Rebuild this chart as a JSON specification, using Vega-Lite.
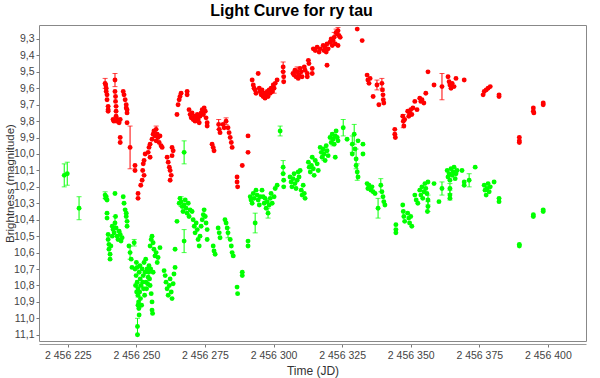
{
"$schema": "https://vega.github.io/schema/vega-lite/v6.json",
"width": 547, "height": 316,
"autosize": {"type": "none"},
"padding": {"left": 39, "top": 25, "right": 14, "bottom": 37},
"background": "white",
"title": {"text": "Light Curve for ry tau", "font": "Liberation Sans", "fontSize": 16, "fontWeight": "bold", "color": "black", "anchor": "middle", "frame": "group", "offset": 6, "dx": -21},
"config": {
  "locale": {"number": {"decimal": ",", "thousands": " ", "grouping": [3], "currency": ["", ""]}},
  "view": {"stroke": "#888888", "strokeWidth": 1},
  "axis": {"labelFont": "Liberation Sans", "labelFontSize": 10.5, "labelColor": "#444444", "titleFont": "Liberation Sans", "titleFontSize": 12, "titleFontWeight": "normal", "titleColor": "#333333", "tickColor": "#777777", "domainColor": "#999999", "grid": false, "tickSize": 3}
},
"data": {"values": [
{"jd":2456238.6,"mag":9.57,"band":"R","err":0.03},{"jd":2456238.8,"mag":9.58,"band":"R"},{"jd":2456239.0,"mag":9.60,"band":"R"},{"jd":2456239.0,"mag":9.62,"band":"R"},{"jd":2456239.3,"mag":9.64,"band":"R"},{"jd":2456239.3,"mag":9.67,"band":"R"},{"jd":2456239.7,"mag":9.71,"band":"R"},{"jd":2456239.7,"mag":9.73,"band":"R"},{"jd":2456239.7,"mag":9.74,"band":"R"},
{"jd":2456242.2,"mag":9.55,"band":"R","err":0.04},{"jd":2456242.2,"mag":9.62,"band":"R"},{"jd":2456242.4,"mag":9.65,"band":"R"},{"jd":2456242.4,"mag":9.68,"band":"R"},{"jd":2456242.6,"mag":9.71,"band":"R"},{"jd":2456242.6,"mag":9.74,"band":"R"},{"jd":2456242.6,"mag":9.77,"band":"R"},{"jd":2456242.8,"mag":9.80,"band":"R"},{"jd":2456243.0,"mag":9.79,"band":"R"},{"jd":2456243.3,"mag":9.80,"band":"R"},{"jd":2456243.7,"mag":9.81,"band":"R"},{"jd":2456244.1,"mag":9.79,"band":"R"},{"jd":2456241.5,"mag":9.79,"band":"R"},{"jd":2456241.8,"mag":9.80,"band":"R"},
{"jd":2456245.2,"mag":9.62,"band":"R"},{"jd":2456245.5,"mag":9.64,"band":"R"},{"jd":2456245.9,"mag":9.67,"band":"R"},{"jd":2456246.3,"mag":9.70,"band":"R"},{"jd":2456246.6,"mag":9.73,"band":"R"},{"jd":2456246.6,"mag":9.75,"band":"R"},{"jd":2456246.3,"mag":9.72,"band":"R"},{"jd":2456246.6,"mag":9.81,"band":"R"},
{"jd":2456244.1,"mag":9.90,"band":"R"},{"jd":2456244.1,"mag":9.93,"band":"R"},{"jd":2456247.7,"mag":9.96,"band":"R","err":0.13},{"jd":2456249.5,"mag":10.07,"band":"R"},{"jd":2456249.5,"mag":10.10,"band":"R"},{"jd":2456250.6,"mag":10.24,"band":"R"},{"jd":2456250.6,"mag":10.27,"band":"R"},{"jd":2456251.6,"mag":10.19,"band":"R"},
{"jd":2456252.1,"mag":10.16,"band":"R"},{"jd":2456252.3,"mag":10.10,"band":"R"},{"jd":2456252.5,"mag":10.06,"band":"R"},{"jd":2456252.8,"mag":10.04,"band":"R"},{"jd":2456253.2,"mag":10.00,"band":"R"},{"jd":2456252.8,"mag":10.13,"band":"R"},
{"jd":2456254.3,"mag":9.99,"band":"R"},{"jd":2456254.6,"mag":9.96,"band":"R"},{"jd":2456255.0,"mag":9.94,"band":"R"},{"jd":2456255.0,"mag":10.02,"band":"R"},
{"jd":2456255.7,"mag":9.91,"band":"R"},{"jd":2456256.1,"mag":9.88,"band":"R"},{"jd":2456256.4,"mag":9.86,"band":"R"},{"jd":2456256.8,"mag":9.89,"band":"R"},{"jd":2456257.2,"mag":9.92,"band":"R"},{"jd":2456257.6,"mag":9.88,"band":"R"},{"jd":2456257.9,"mag":9.90,"band":"R"},{"jd":2456258.3,"mag":9.93,"band":"R"},{"jd":2456258.6,"mag":9.89,"band":"R"},{"jd":2456259.0,"mag":9.95,"band":"R"},{"jd":2456259.4,"mag":9.96,"band":"R"},{"jd":2456257.2,"mag":9.85,"band":"R","err":0.02},
{"jd":2456261.2,"mag":10.02,"band":"R"},{"jd":2456261.6,"mag":10.05,"band":"R"},{"jd":2456262.0,"mag":10.08,"band":"R"},{"jd":2456262.3,"mag":10.10,"band":"R"},{"jd":2456262.7,"mag":10.13,"band":"R"},{"jd":2456262.3,"mag":10.16,"band":"R"},{"jd":2456263.0,"mag":9.96,"band":"R"},{"jd":2456263.4,"mag":9.98,"band":"R"},{"jd":2456263.0,"mag":10.01,"band":"R"},
{"jd":2456264.8,"mag":9.76,"band":"R"},{"jd":2456265.2,"mag":9.70,"band":"R"},{"jd":2456265.6,"mag":9.67,"band":"R"},{"jd":2456265.9,"mag":9.65,"band":"R"},{"jd":2456266.3,"mag":9.63,"band":"R"},{"jd":2456268.5,"mag":9.62,"band":"R"},{"jd":2456268.5,"mag":9.64,"band":"R"},
{"jd":2456269.2,"mag":9.73,"band":"R"},{"jd":2456269.6,"mag":9.76,"band":"R"},{"jd":2456270.0,"mag":9.78,"band":"R"},{"jd":2456270.3,"mag":9.75,"band":"R"},{"jd":2456270.7,"mag":9.79,"band":"R"},{"jd":2456271.1,"mag":9.77,"band":"R"},{"jd":2456271.4,"mag":9.80,"band":"R"},{"jd":2456271.8,"mag":9.78,"band":"R"},{"jd":2456272.2,"mag":9.76,"band":"R"},{"jd":2456272.5,"mag":9.79,"band":"R"},{"jd":2456272.9,"mag":9.81,"band":"R"},{"jd":2456273.2,"mag":9.77,"band":"R"},{"jd":2456273.6,"mag":9.75,"band":"R"},{"jd":2456274.0,"mag":9.73,"band":"R"},{"jd":2456274.4,"mag":9.76,"band":"R"},{"jd":2456274.7,"mag":9.72,"band":"R"},{"jd":2456275.1,"mag":9.74,"band":"R"},{"jd":2456275.4,"mag":9.78,"band":"R"},{"jd":2456275.8,"mag":9.81,"band":"R"},{"jd":2456275.8,"mag":9.83,"band":"R"},
{"jd":2456277.6,"mag":9.94,"band":"R"},{"jd":2456278.0,"mag":9.96,"band":"R"},{"jd":2456278.3,"mag":9.98,"band":"R"},{"jd":2456280.0,"mag":9.82,"band":"R","err":0.03},{"jd":2456280.2,"mag":9.85,"band":"R"},{"jd":2456280.5,"mag":9.87,"band":"R"},{"jd":2456281.6,"mag":9.82,"band":"R"},{"jd":2456282.0,"mag":9.84,"band":"R"},{"jd":2456282.7,"mag":9.80,"band":"R","err":0.02},{"jd":2456283.4,"mag":9.84,"band":"R"},{"jd":2456283.8,"mag":9.87,"band":"R"},{"jd":2456284.2,"mag":9.90,"band":"R"},{"jd":2456284.6,"mag":9.93,"band":"R"},{"jd":2456284.9,"mag":9.96,"band":"R"},
{"jd":2456286.7,"mag":10.14,"band":"R"},{"jd":2456286.7,"mag":10.17,"band":"R"},{"jd":2456286.9,"mag":10.20,"band":"R"},{"jd":2456288.6,"mag":10.07,"band":"R"},{"jd":2456290.7,"mag":9.89,"band":"R"},{"jd":2456290.7,"mag":9.99,"band":"R"},
{"jd":2456292.2,"mag":9.55,"band":"R"},{"jd":2456292.6,"mag":9.58,"band":"R"},{"jd":2456292.9,"mag":9.60,"band":"R"},{"jd":2456293.3,"mag":9.61,"band":"R"},{"jd":2456293.6,"mag":9.63,"band":"R"},{"jd":2456294.4,"mag":9.51,"band":"R"},
{"jd":2456294.8,"mag":9.60,"band":"R"},{"jd":2456295.1,"mag":9.62,"band":"R"},{"jd":2456295.5,"mag":9.64,"band":"R"},{"jd":2456295.8,"mag":9.61,"band":"R"},{"jd":2456296.2,"mag":9.65,"band":"R"},{"jd":2456296.6,"mag":9.63,"band":"R"},{"jd":2456296.9,"mag":9.66,"band":"R"},{"jd":2456297.3,"mag":9.64,"band":"R"},{"jd":2456297.7,"mag":9.62,"band":"R"},{"jd":2456298.0,"mag":9.65,"band":"R"},{"jd":2456298.4,"mag":9.61,"band":"R"},{"jd":2456298.8,"mag":9.63,"band":"R"},{"jd":2456299.1,"mag":9.60,"band":"R"},{"jd":2456299.5,"mag":9.62,"band":"R"},{"jd":2456299.9,"mag":9.58,"band":"R"},{"jd":2456300.2,"mag":9.60,"band":"R","err":0.03},{"jd":2456300.6,"mag":9.57,"band":"R"},{"jd":2456301.3,"mag":9.55,"band":"R"},
{"jd":2456303.5,"mag":9.47,"band":"R","err":0.03},{"jd":2456303.5,"mag":9.50,"band":"R"},{"jd":2456303.7,"mag":9.53,"band":"R"},{"jd":2456303.7,"mag":9.56,"band":"R"},
{"jd":2456307.1,"mag":9.51,"band":"R"},{"jd":2456307.5,"mag":9.52,"band":"R"},{"jd":2456307.8,"mag":9.49,"band":"R"},{"jd":2456308.2,"mag":9.53,"band":"R"},{"jd":2456308.6,"mag":9.50,"band":"R","err":0.03},{"jd":2456309.0,"mag":9.54,"band":"R"},{"jd":2456309.3,"mag":9.52,"band":"R"},{"jd":2456309.7,"mag":9.48,"band":"R"},{"jd":2456310.1,"mag":9.50,"band":"R"},{"jd":2456310.4,"mag":9.53,"band":"R"},{"jd":2456311.2,"mag":9.47,"band":"R"},{"jd":2456311.5,"mag":9.49,"band":"R"},{"jd":2456312.3,"mag":9.51,"band":"R"},{"jd":2456312.3,"mag":9.53,"band":"R"},
{"jd":2456312.7,"mag":9.43,"band":"R"},{"jd":2456312.9,"mag":9.45,"band":"R"},{"jd":2456314.1,"mag":9.48,"band":"R"},{"jd":2456314.1,"mag":9.51,"band":"R"},
{"jd":2456314.5,"mag":9.36,"band":"R"},{"jd":2456315.2,"mag":9.37,"band":"R"},{"jd":2456315.9,"mag":9.35,"band":"R"},{"jd":2456316.6,"mag":9.38,"band":"R"},{"jd":2456317.0,"mag":9.36,"band":"R"},
{"jd":2456318.1,"mag":9.34,"band":"R"},{"jd":2456318.4,"mag":9.37,"band":"R"},{"jd":2456318.8,"mag":9.35,"band":"R"},{"jd":2456319.2,"mag":9.38,"band":"R"},{"jd":2456319.5,"mag":9.33,"band":"R"},{"jd":2456319.9,"mag":9.36,"band":"R"},{"jd":2456319.5,"mag":9.46,"band":"R"},
{"jd":2456320.6,"mag":9.32,"band":"R"},{"jd":2456321.0,"mag":9.30,"band":"R"},{"jd":2456321.4,"mag":9.34,"band":"R"},{"jd":2456321.7,"mag":9.31,"band":"R"},{"jd":2456322.1,"mag":9.29,"band":"R","err":0.03},{"jd":2456322.5,"mag":9.33,"band":"R"},
{"jd":2456322.8,"mag":9.26,"band":"R","err":0.02},{"jd":2456323.2,"mag":9.27,"band":"R"},{"jd":2456323.5,"mag":9.25,"band":"R","err":0.02},{"jd":2456323.9,"mag":9.28,"band":"R"},{"jd":2456324.3,"mag":9.29,"band":"R"},{"jd":2456323.5,"mag":9.34,"band":"R"},
{"jd":2456330.5,"mag":9.24,"band":"R"},{"jd":2456332.3,"mag":9.31,"band":"R"},
{"jd":2456334.1,"mag":9.52,"band":"R"},{"jd":2456334.4,"mag":9.55,"band":"R"},{"jd":2456334.8,"mag":9.57,"band":"R"},{"jd":2456335.2,"mag":9.54,"band":"R"},{"jd":2456336.3,"mag":9.65,"band":"R"},{"jd":2456337.7,"mag":9.58,"band":"R","err":0.03},{"jd":2456338.4,"mag":9.70,"band":"R"},
{"jd":2456339.5,"mag":9.57,"band":"R","err":0.03},{"jd":2456339.7,"mag":9.61,"band":"R"},{"jd":2456339.9,"mag":9.64,"band":"R"},{"jd":2456340.0,"mag":9.67,"band":"R"},{"jd":2456340.2,"mag":9.69,"band":"R"},
{"jd":2456344.2,"mag":9.85,"band":"R"},{"jd":2456344.2,"mag":9.88,"band":"R"},{"jd":2456344.4,"mag":9.90,"band":"R"},
{"jd":2456347.1,"mag":9.77,"band":"R"},{"jd":2456347.3,"mag":9.80,"band":"R","err":0.04},{"jd":2456347.5,"mag":9.83,"band":"R"},{"jd":2456347.8,"mag":9.79,"band":"R"},
{"jd":2456348.9,"mag":9.74,"band":"R"},{"jd":2456349.3,"mag":9.77,"band":"R"},{"jd":2456349.6,"mag":9.75,"band":"R"},{"jd":2456350.0,"mag":9.73,"band":"R"},{"jd":2456350.4,"mag":9.76,"band":"R"},{"jd":2456350.8,"mag":9.72,"band":"R"},
{"jd":2456351.5,"mag":9.68,"band":"R"},{"jd":2456352.3,"mag":9.73,"band":"R"},{"jd":2456353.3,"mag":9.66,"band":"R"},{"jd":2456353.7,"mag":9.68,"band":"R"},{"jd":2456354.1,"mag":9.67,"band":"R"},{"jd":2456354.8,"mag":9.69,"band":"R"},{"jd":2456355.5,"mag":9.63,"band":"R"},{"jd":2456356.3,"mag":9.50,"band":"R"},{"jd":2456358.5,"mag":9.58,"band":"R"},{"jd":2456361.4,"mag":9.59,"band":"R","err":0.08},
{"jd":2456363.6,"mag":9.53,"band":"R"},{"jd":2456364.0,"mag":9.56,"band":"R"},{"jd":2456364.3,"mag":9.58,"band":"R"},{"jd":2456364.7,"mag":9.60,"band":"R"},{"jd":2456365.1,"mag":9.57,"band":"R"},{"jd":2456365.8,"mag":9.59,"band":"R"},{"jd":2456366.5,"mag":9.54,"band":"R"},{"jd":2456369.5,"mag":9.55,"band":"R"},
{"jd":2456376.4,"mag":9.64,"band":"R"},{"jd":2456376.8,"mag":9.62,"band":"R"},{"jd":2456377.5,"mag":9.61,"band":"R"},{"jd":2456378.2,"mag":9.60,"band":"R"},{"jd":2456379.0,"mag":9.59,"band":"R"},{"jd":2456382.2,"mag":9.64,"band":"R"},{"jd":2456382.2,"mag":9.65,"band":"R"},
{"jd":2456389.6,"mag":9.90,"band":"R"},{"jd":2456389.6,"mag":9.92,"band":"R"},{"jd":2456389.6,"mag":9.93,"band":"R"},{"jd":2456394.7,"mag":9.72,"band":"R"},{"jd":2456394.7,"mag":9.74,"band":"R"},{"jd":2456394.9,"mag":9.75,"band":"R"},{"jd":2456398.3,"mag":9.69,"band":"R"},{"jd":2456398.3,"mag":9.70,"band":"R"},

{"jd":2456223.7,"mag":10.13,"band":"V","err":0.07},{"jd":2456224.8,"mag":10.12,"band":"V","err":0.07},{"jd":2456229.1,"mag":10.33,"band":"V","err":0.07},
{"jd":2456238.6,"mag":10.25,"band":"V","err":0.02},{"jd":2456238.8,"mag":10.27,"band":"V"},{"jd":2456239.0,"mag":10.26,"band":"V"},{"jd":2456239.3,"mag":10.28,"band":"V"},{"jd":2456239.3,"mag":10.36,"band":"V"},{"jd":2456239.3,"mag":10.39,"band":"V"},
{"jd":2456239.7,"mag":10.49,"band":"V"},{"jd":2456239.7,"mag":10.52,"band":"V"},{"jd":2456240.0,"mag":10.55,"band":"V"},{"jd":2456240.0,"mag":10.58,"band":"V"},{"jd":2456240.4,"mag":10.61,"band":"V"},{"jd":2456240.4,"mag":10.64,"band":"V"},{"jd":2456240.7,"mag":10.56,"band":"V"},{"jd":2456241.2,"mag":10.50,"band":"V"},
{"jd":2456241.2,"mag":10.44,"band":"V"},{"jd":2456241.5,"mag":10.46,"band":"V"},{"jd":2456241.9,"mag":10.48,"band":"V"},{"jd":2456242.2,"mag":10.42,"band":"V","err":0.04},{"jd":2456242.6,"mag":10.45,"band":"V"},{"jd":2456243.0,"mag":10.50,"band":"V"},{"jd":2456243.3,"mag":10.52,"band":"V"},{"jd":2456243.7,"mag":10.47,"band":"V"},{"jd":2456244.1,"mag":10.49,"band":"V"},{"jd":2456244.4,"mag":10.53,"band":"V"},{"jd":2456244.8,"mag":10.51,"band":"V"},{"jd":2456242.4,"mag":10.38,"band":"V"},{"jd":2456242.2,"mag":10.24,"band":"V"},
{"jd":2456245.2,"mag":10.26,"band":"V"},{"jd":2456245.5,"mag":10.30,"band":"V"},{"jd":2456245.9,"mag":10.34,"band":"V"},{"jd":2456246.3,"mag":10.38,"band":"V"},{"jd":2456246.6,"mag":10.41,"band":"V"},{"jd":2456246.6,"mag":10.44,"band":"V"},{"jd":2456246.3,"mag":10.36,"band":"V"},
{"jd":2456247.3,"mag":10.56,"band":"V"},{"jd":2456247.7,"mag":10.60,"band":"V","err":0.04},{"jd":2456248.1,"mag":10.64,"band":"V"},{"jd":2456248.4,"mag":10.69,"band":"V"},{"jd":2456249.2,"mag":10.54,"band":"V","err":0.02},
{"jd":2456249.5,"mag":10.70,"band":"V"},{"jd":2456249.9,"mag":10.74,"band":"V"},{"jd":2456250.3,"mag":10.78,"band":"V"},{"jd":2456250.6,"mag":10.82,"band":"V","err":0.05},{"jd":2456250.6,"mag":10.86,"band":"V"},{"jd":2456251.0,"mag":10.72,"band":"V"},{"jd":2456251.4,"mag":10.76,"band":"V"},{"jd":2456251.7,"mag":10.80,"band":"V"},{"jd":2456252.1,"mag":10.70,"band":"V"},{"jd":2456252.5,"mag":10.74,"band":"V"},{"jd":2456252.8,"mag":10.66,"band":"V"},{"jd":2456253.2,"mag":10.72,"band":"V"},{"jd":2456253.5,"mag":10.78,"band":"V"},{"jd":2456253.9,"mag":10.70,"band":"V"},{"jd":2456254.3,"mag":10.75,"band":"V"},{"jd":2456254.6,"mag":10.68,"band":"V"},{"jd":2456255.0,"mag":10.80,"band":"V"},{"jd":2456255.4,"mag":10.85,"band":"V"},{"jd":2456255.7,"mag":10.90,"band":"V"},{"jd":2456255.7,"mag":10.95,"band":"V"},{"jd":2456256.1,"mag":10.72,"band":"V"},{"jd":2456250.6,"mag":10.92,"band":"V"},{"jd":2456251.0,"mag":10.98,"band":"V"},{"jd":2456250.8,"mag":10.90,"band":"V"},{"jd":2456250.4,"mag":11.05,"band":"V","err":0.05},{"jd":2456250.4,"mag":11.10,"band":"V"},
{"jd":2456250.0,"mag":10.66,"band":"V"},{"jd":2456250.3,"mag":10.69,"band":"V"},{"jd":2456251.2,"mag":10.84,"band":"V"},{"jd":2456251.5,"mag":10.88,"band":"V"},{"jd":2456251.9,"mag":10.92,"band":"V"},{"jd":2456252.3,"mag":10.78,"band":"V"},{"jd":2456252.6,"mag":10.82,"band":"V"},{"jd":2456253.0,"mag":10.86,"band":"V"},{"jd":2456253.4,"mag":10.64,"band":"V"},{"jd":2456253.7,"mag":10.82,"band":"V"},{"jd":2456254.1,"mag":10.79,"band":"V"},{"jd":2456254.5,"mag":10.72,"band":"V"},{"jd":2456254.8,"mag":10.76,"band":"V"},{"jd":2456255.2,"mag":10.70,"band":"V"},{"jd":2456249.7,"mag":10.80,"band":"V"},{"jd":2456250.1,"mag":10.84,"band":"V"},{"jd":2456250.9,"mag":10.94,"band":"V"},{"jd":2456251.3,"mag":10.68,"band":"V"},
{"jd":2456255.0,"mag":10.56,"band":"V"},{"jd":2456255.4,"mag":10.52,"band":"V"},{"jd":2456255.7,"mag":10.50,"band":"V"},{"jd":2456256.1,"mag":10.54,"band":"V"},{"jd":2456256.4,"mag":10.58,"band":"V"},{"jd":2456256.8,"mag":10.62,"band":"V"},{"jd":2456257.2,"mag":10.60,"band":"V"},{"jd":2456257.6,"mag":10.66,"band":"V"},{"jd":2456257.9,"mag":10.63,"band":"V"},{"jd":2456258.6,"mag":10.57,"band":"V"},{"jd":2456255.9,"mag":10.97,"band":"V"},
{"jd":2456260.1,"mag":10.71,"band":"V"},{"jd":2456260.5,"mag":10.74,"band":"V"},{"jd":2456260.8,"mag":10.78,"band":"V"},{"jd":2456261.2,"mag":10.82,"band":"V"},{"jd":2456261.6,"mag":10.86,"band":"V"},{"jd":2456262.0,"mag":10.80,"band":"V"},{"jd":2456262.3,"mag":10.76,"band":"V"},{"jd":2456262.7,"mag":10.84,"band":"V"},{"jd":2456263.0,"mag":10.88,"band":"V"},{"jd":2456263.4,"mag":10.79,"band":"V"},{"jd":2456263.7,"mag":10.73,"band":"V"},{"jd":2456264.1,"mag":10.69,"band":"V"},{"jd":2456264.1,"mag":10.58,"band":"V"},{"jd":2456264.8,"mag":10.41,"band":"V"},
{"jd":2456265.6,"mag":10.30,"band":"V"},{"jd":2456265.9,"mag":10.27,"band":"V"},{"jd":2456266.3,"mag":10.29,"band":"V","err":0.03},{"jd":2456266.7,"mag":10.32,"band":"V"},{"jd":2456267.0,"mag":10.35,"band":"V"},{"jd":2456267.4,"mag":10.31,"band":"V"},{"jd":2456267.8,"mag":10.28,"band":"V"},{"jd":2456268.1,"mag":10.33,"band":"V"},{"jd":2456268.5,"mag":10.36,"band":"V"},{"jd":2456268.9,"mag":10.30,"band":"V"},{"jd":2456269.2,"mag":10.38,"band":"V"},{"jd":2456269.6,"mag":10.34,"band":"V"},{"jd":2456267.4,"mag":10.53,"band":"V","err":0.07},{"jd":2456267.4,"mag":9.99,"band":"V","err":0.07},
{"jd":2456270.3,"mag":10.35,"band":"V"},{"jd":2456270.7,"mag":10.40,"band":"V"},{"jd":2456271.1,"mag":10.44,"band":"V"},{"jd":2456271.4,"mag":10.48,"band":"V"},{"jd":2456271.8,"mag":10.42,"band":"V"},{"jd":2456272.2,"mag":10.46,"band":"V"},{"jd":2456272.5,"mag":10.52,"band":"V"},{"jd":2456272.9,"mag":10.56,"band":"V"},{"jd":2456273.2,"mag":10.50,"band":"V"},{"jd":2456273.6,"mag":10.44,"band":"V"},{"jd":2456274.0,"mag":10.40,"band":"V"},{"jd":2456274.4,"mag":10.37,"band":"V"},{"jd":2456274.7,"mag":10.34,"band":"V"},{"jd":2456275.1,"mag":10.38,"band":"V"},{"jd":2456275.4,"mag":10.42,"band":"V"},{"jd":2456275.8,"mag":10.46,"band":"V"},{"jd":2456275.8,"mag":10.52,"band":"V"},
{"jd":2456278.0,"mag":10.56,"band":"V"},{"jd":2456278.3,"mag":10.59,"band":"V"},{"jd":2456278.7,"mag":10.61,"band":"V"},{"jd":2456279.8,"mag":10.45,"band":"V"},{"jd":2456280.2,"mag":10.48,"band":"V"},{"jd":2456280.5,"mag":10.51,"band":"V"},{"jd":2456282.3,"mag":10.40,"band":"V"},{"jd":2456282.7,"mag":10.42,"band":"V"},{"jd":2456283.1,"mag":10.45,"band":"V"},{"jd":2456283.4,"mag":10.48,"band":"V","err":0.03},{"jd":2456284.2,"mag":10.52,"band":"V"},{"jd":2456284.6,"mag":10.56,"band":"V"},{"jd":2456284.9,"mag":10.60,"band":"V"},{"jd":2456285.3,"mag":10.62,"band":"V"},
{"jd":2456286.7,"mag":10.81,"band":"V"},{"jd":2456286.9,"mag":10.85,"band":"V"},{"jd":2456288.6,"mag":10.72,"band":"V"},{"jd":2456288.6,"mag":10.74,"band":"V"},{"jd":2456290.7,"mag":10.53,"band":"V"},{"jd":2456290.7,"mag":10.56,"band":"V"},{"jd":2456293.3,"mag":10.42,"band":"V","err":0.06},
{"jd":2456291.5,"mag":10.26,"band":"V"},{"jd":2456291.8,"mag":10.28,"band":"V"},{"jd":2456292.2,"mag":10.30,"band":"V"},{"jd":2456292.6,"mag":10.24,"band":"V"},{"jd":2456292.9,"mag":10.27,"band":"V"},{"jd":2456293.6,"mag":10.22,"band":"V"},{"jd":2456294.0,"mag":10.25,"band":"V"},{"jd":2456294.4,"mag":10.28,"band":"V"},{"jd":2456294.8,"mag":10.31,"band":"V"},{"jd":2456295.1,"mag":10.26,"band":"V"},
{"jd":2456295.8,"mag":10.22,"band":"V"},{"jd":2456296.2,"mag":10.26,"band":"V"},{"jd":2456296.6,"mag":10.30,"band":"V"},{"jd":2456296.9,"mag":10.27,"band":"V"},{"jd":2456297.3,"mag":10.33,"band":"V"},{"jd":2456297.7,"mag":10.29,"band":"V"},{"jd":2456298.0,"mag":10.36,"band":"V","err":0.03},{"jd":2456298.4,"mag":10.31,"band":"V"},{"jd":2456298.8,"mag":10.27,"band":"V"},{"jd":2456299.1,"mag":10.24,"band":"V"},{"jd":2456299.5,"mag":10.30,"band":"V"},{"jd":2456300.2,"mag":10.26,"band":"V"},{"jd":2456300.6,"mag":10.21,"band":"V"},{"jd":2456301.3,"mag":10.19,"band":"V"},
{"jd":2456302.4,"mag":9.86,"band":"V","err":0.03},{"jd":2456303.5,"mag":10.08,"band":"V","err":0.04},{"jd":2456303.5,"mag":10.12,"band":"V"},{"jd":2456303.7,"mag":10.16,"band":"V"},{"jd":2456303.7,"mag":10.20,"band":"V"},
{"jd":2456306.0,"mag":10.14,"band":"V"},{"jd":2456306.4,"mag":10.17,"band":"V"},{"jd":2456306.7,"mag":10.20,"band":"V"},{"jd":2456307.1,"mag":10.15,"band":"V"},{"jd":2456307.5,"mag":10.12,"band":"V"},{"jd":2456307.8,"mag":10.18,"band":"V"},{"jd":2456308.2,"mag":10.21,"band":"V"},{"jd":2456308.6,"mag":10.16,"band":"V"},{"jd":2456309.0,"mag":10.11,"band":"V"},{"jd":2456309.3,"mag":10.14,"band":"V"},{"jd":2456309.7,"mag":10.10,"band":"V"},{"jd":2456310.1,"mag":10.22,"band":"V"},{"jd":2456310.4,"mag":10.25,"band":"V"},{"jd":2456310.8,"mag":10.19,"band":"V"},{"jd":2456311.2,"mag":10.24,"band":"V"},{"jd":2456311.5,"mag":10.27,"band":"V"},
{"jd":2456312.7,"mag":10.05,"band":"V"},{"jd":2456313.0,"mag":10.08,"band":"V"},{"jd":2456313.4,"mag":10.11,"band":"V"},{"jd":2456313.8,"mag":10.07,"band":"V"},{"jd":2456314.1,"mag":10.02,"band":"V"},{"jd":2456314.5,"mag":10.09,"band":"V"},{"jd":2456314.8,"mag":10.13,"band":"V"},{"jd":2456315.2,"mag":10.04,"band":"V"},{"jd":2456315.9,"mag":10.06,"band":"V"},{"jd":2456316.3,"mag":10.10,"band":"V"},
{"jd":2456317.0,"mag":9.96,"band":"V"},{"jd":2456317.4,"mag":9.99,"band":"V"},{"jd":2456317.7,"mag":10.02,"band":"V"},{"jd":2456318.1,"mag":9.97,"band":"V"},{"jd":2456318.4,"mag":10.00,"band":"V","err":0.04},{"jd":2456318.8,"mag":10.04,"band":"V"},{"jd":2456319.2,"mag":9.95,"band":"V"},{"jd":2456319.5,"mag":9.98,"band":"V"},{"jd":2456319.9,"mag":10.01,"band":"V"},
{"jd":2456320.6,"mag":9.90,"band":"V"},{"jd":2456321.0,"mag":9.93,"band":"V"},{"jd":2456321.4,"mag":9.88,"band":"V"},{"jd":2456321.7,"mag":9.91,"band":"V","err":0.04},{"jd":2456322.1,"mag":9.94,"band":"V"},{"jd":2456322.5,"mag":9.89,"band":"V"},{"jd":2456322.8,"mag":9.86,"band":"V"},{"jd":2456323.2,"mag":9.90,"band":"V"},{"jd":2456323.5,"mag":9.92,"band":"V"},{"jd":2456322.5,"mag":10.02,"band":"V"},
{"jd":2456325.4,"mag":9.84,"band":"V","err":0.05},{"jd":2456326.8,"mag":9.91,"band":"V"},
{"jd":2456328.7,"mag":9.94,"band":"V","err":0.05},{"jd":2456328.7,"mag":10.00,"band":"V"},{"jd":2456329.4,"mag":9.88,"band":"V","err":0.06},{"jd":2456329.7,"mag":9.97,"band":"V"},{"jd":2456330.1,"mag":10.03,"band":"V","err":0.06},{"jd":2456330.1,"mag":10.07,"band":"V"},{"jd":2456330.5,"mag":10.11,"band":"V","err":0.05},{"jd":2456330.8,"mag":9.92,"band":"V"},{"jd":2456330.8,"mag":10.14,"band":"V"},{"jd":2456332.6,"mag":9.94,"band":"V"},{"jd":2456332.6,"mag":10.00,"band":"V"},
{"jd":2456334.1,"mag":10.18,"band":"V"},{"jd":2456334.4,"mag":10.21,"band":"V"},{"jd":2456334.8,"mag":10.19,"band":"V"},{"jd":2456335.5,"mag":10.22,"band":"V"},{"jd":2456335.9,"mag":10.20,"band":"V"},{"jd":2456336.3,"mag":10.23,"band":"V"},{"jd":2456337.0,"mag":10.24,"band":"V"},{"jd":2456338.1,"mag":10.33,"band":"V","err":0.06},
{"jd":2456339.1,"mag":10.19,"band":"V","err":0.04},{"jd":2456339.5,"mag":10.23,"band":"V"},{"jd":2456339.9,"mag":10.26,"band":"V"},{"jd":2456340.2,"mag":10.29,"band":"V"},{"jd":2456340.6,"mag":10.31,"band":"V"},
{"jd":2456344.6,"mag":10.43,"band":"V"},{"jd":2456344.6,"mag":10.46,"band":"V"},{"jd":2456344.6,"mag":10.48,"band":"V"},
{"jd":2456347.1,"mag":10.31,"band":"V"},{"jd":2456347.3,"mag":10.35,"band":"V"},{"jd":2456347.5,"mag":10.38,"band":"V"},{"jd":2456347.8,"mag":10.41,"band":"V"},
{"jd":2456348.9,"mag":10.36,"band":"V"},{"jd":2456349.3,"mag":10.39,"band":"V"},{"jd":2456349.6,"mag":10.42,"band":"V"},{"jd":2456350.0,"mag":10.38,"band":"V"},{"jd":2456350.4,"mag":10.44,"band":"V"},
{"jd":2456351.5,"mag":10.25,"band":"V"},{"jd":2456352.0,"mag":10.28,"band":"V"},{"jd":2456352.6,"mag":10.30,"band":"V"},
{"jd":2456353.3,"mag":10.22,"band":"V"},{"jd":2456353.7,"mag":10.25,"band":"V"},{"jd":2456354.1,"mag":10.20,"band":"V"},{"jd":2456354.4,"mag":10.27,"band":"V"},{"jd":2456354.8,"mag":10.23,"band":"V"},{"jd":2456355.2,"mag":10.18,"band":"V"},{"jd":2456355.5,"mag":10.21,"band":"V"},{"jd":2456355.9,"mag":10.24,"band":"V"},{"jd":2456356.3,"mag":10.17,"band":"V"},
{"jd":2456356.3,"mag":10.28,"band":"V","err":0.03},{"jd":2456356.3,"mag":10.32,"band":"V","err":0.03},{"jd":2456356.1,"mag":10.35,"band":"V"},
{"jd":2456358.5,"mag":10.18,"band":"V"},{"jd":2456360.3,"mag":10.29,"band":"V"},{"jd":2456361.4,"mag":10.21,"band":"V","err":0.04},
{"jd":2456363.3,"mag":10.10,"band":"V"},{"jd":2456363.6,"mag":10.14,"band":"V"},{"jd":2456364.0,"mag":10.12,"band":"V"},{"jd":2456364.3,"mag":10.16,"band":"V"},{"jd":2456364.7,"mag":10.09,"band":"V"},{"jd":2456365.1,"mag":10.13,"band":"V"},{"jd":2456365.5,"mag":10.11,"band":"V"},{"jd":2456365.8,"mag":10.08,"band":"V"},{"jd":2456366.2,"mag":10.15,"band":"V"},{"jd":2456366.5,"mag":10.12,"band":"V"},{"jd":2456366.9,"mag":10.10,"band":"V"},
{"jd":2456364.3,"mag":10.21,"band":"V","err":0.03},{"jd":2456364.3,"mag":10.25,"band":"V","err":0.03},{"jd":2456364.3,"mag":10.27,"band":"V"},
{"jd":2456368.7,"mag":10.10,"band":"V"},{"jd":2456369.5,"mag":10.17,"band":"V"},{"jd":2456369.5,"mag":10.19,"band":"V"},{"jd":2456371.3,"mag":10.16,"band":"V","err":0.04},{"jd":2456373.5,"mag":10.08,"band":"V"},
{"jd":2456376.8,"mag":10.19,"band":"V"},{"jd":2456377.1,"mag":10.22,"band":"V"},{"jd":2456377.5,"mag":10.25,"band":"V"},{"jd":2456377.8,"mag":10.21,"band":"V"},{"jd":2456378.2,"mag":10.18,"band":"V"},{"jd":2456378.6,"mag":10.23,"band":"V"},{"jd":2456379.0,"mag":10.20,"band":"V"},{"jd":2456380.4,"mag":10.17,"band":"V"},{"jd":2456382.2,"mag":10.27,"band":"V"},{"jd":2456382.2,"mag":10.29,"band":"V"},
{"jd":2456389.6,"mag":10.55,"band":"V"},{"jd":2456389.6,"mag":10.56,"band":"V"},{"jd":2456394.7,"mag":10.37,"band":"V"},{"jd":2456394.7,"mag":10.38,"band":"V"},{"jd":2456398.3,"mag":10.34,"band":"V"},{"jd":2456398.3,"mag":10.35,"band":"V"}
]},
"encoding": {
  "x": {"field": "jd", "type": "quantitative", "scale": {"domain": [2456214.5, 2456413.9], "nice": false, "zero": false},
        "axis": {"title": "Time (JD)", "values": [2456225, 2456250, 2456275, 2456300, 2456325, 2456350, 2456375, 2456400], "format": ",d", "offset": 3, "labelPadding": 3, "titlePadding": 5}},
  "y": {"field": "mag", "type": "quantitative", "scale": {"domain": [9.215, 11.138], "reverse": true, "nice": false, "zero": false},
        "axis": {"title": "Brightness (magnitude)", "values": [9.3, 9.4, 9.5, 9.6, 9.7, 9.8, 9.9, 10.0, 10.1, 10.2, 10.3, 10.4, 10.5, 10.6, 10.7, 10.8, 10.9, 11.0, 11.1], "format": ".1f", "domain": false, "labelPadding": 2, "titleX": -24, "titleFontSize": 11.5}},
  "color": {"field": "band", "type": "nominal", "scale": {"domain": ["R", "V"], "range": ["#ff0000", "#00ff00"]}, "legend": null}
},
"layer": [
  {"transform": [{"filter": "isValid(datum.err)"}], "mark": {"type": "errorbar", "ticks": {"size": 5}, "thickness": 1}, "encoding": {"yError": {"field": "err"}}},
  {"mark": {"type": "circle", "size": 24, "opacity": 1}}
]
}
